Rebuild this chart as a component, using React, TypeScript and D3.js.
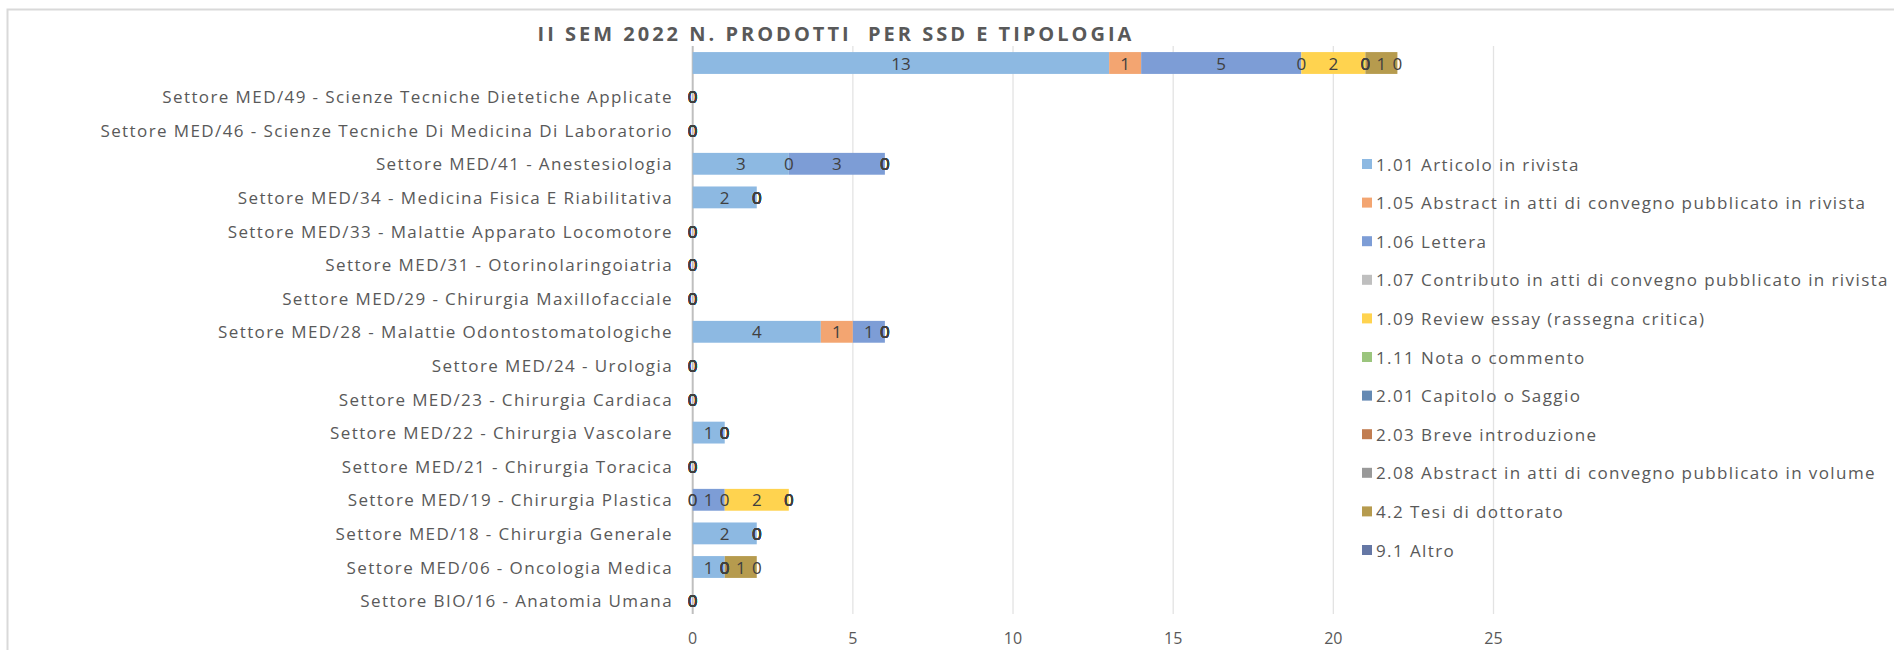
import * as d3 from 'd3';
import React from 'react';

const categories = [
  '',
  'Settore MED/49 - Scienze Tecniche Dietetiche Applicate',
  'Settore MED/46 - Scienze Tecniche Di Medicina Di Laboratorio',
  'Settore MED/41 - Anestesiologia',
  'Settore MED/34 - Medicina Fisica E Riabilitativa',
  'Settore MED/33 - Malattie Apparato Locomotore',
  'Settore MED/31 - Otorinolaringoiatria',
  'Settore MED/29 - Chirurgia Maxillofacciale',
  'Settore MED/28 - Malattie Odontostomatologiche',
  'Settore MED/24 - Urologia',
  'Settore MED/23 - Chirurgia Cardiaca',
  'Settore MED/22 - Chirurgia Vascolare',
  'Settore MED/21 - Chirurgia Toracica',
  'Settore MED/19 - Chirurgia Plastica',
  'Settore MED/18 - Chirurgia Generale',
  'Settore MED/06 - Oncologia Medica',
  'Settore BIO/16 - Anatomia Umana',
];

const seriesNames = [
  '1.01 Articolo in rivista',
  '1.05 Abstract in atti di convegno pubblicato in rivista',
  '1.06 Lettera',
  '1.07 Contributo in atti di convegno pubblicato in rivista',
  '1.09 Review essay (rassegna critica)',
  '1.11 Nota o commento',
  '2.01 Capitolo o Saggio',
  '2.03 Breve introduzione',
  '2.08 Abstract in atti di convegno pubblicato in volume',
  '4.2 Tesi di dottorato',
  '9.1 Altro',
];

const colors = [
  '#8db9e2', '#f3a571', '#7d9dd6', '#bfbfbf', '#ffd34f', '#9bc57d',
  '#6489b3', '#c17d51', '#999999', '#b69b4e', '#6577a5',
];

// one array per series, same order as categories (top to bottom)
const art101 = [13, 0, 0, 3, 2, 0, 0, 0, 4, 0, 0, 1, 0, 0, 2, 1, 0];
const abs105 = [1, 0, 0, 0, 0, 0, 0, 0, 1, 0, 0, 0, 0, 0, 0, 0, 0];
const let106 = [5, 0, 0, 3, 0, 0, 0, 0, 1, 0, 0, 0, 0, 1, 0, 0, 0];
const con107 = [0, 0, 0, 0, 0, 0, 0, 0, 0, 0, 0, 0, 0, 0, 0, 0, 0];
const rev109 = [2, 0, 0, 0, 0, 0, 0, 0, 0, 0, 0, 0, 0, 2, 0, 0, 0];
const not111 = [0, 0, 0, 0, 0, 0, 0, 0, 0, 0, 0, 0, 0, 0, 0, 0, 0];
const cap201 = [0, 0, 0, 0, 0, 0, 0, 0, 0, 0, 0, 0, 0, 0, 0, 0, 0];
const bre203 = [0, 0, 0, 0, 0, 0, 0, 0, 0, 0, 0, 0, 0, 0, 0, 0, 0];
const abs208 = [0, 0, 0, 0, 0, 0, 0, 0, 0, 0, 0, 0, 0, 0, 0, 0, 0];
const tes42 = [1, 0, 0, 0, 0, 0, 0, 0, 0, 0, 0, 0, 0, 0, 0, 1, 0];
const alt91 = [0, 0, 0, 0, 0, 0, 0, 0, 0, 0, 0, 0, 0, 0, 0, 0, 0];

const seriesValues = [
  art101, abs105, let106, con107, rev109, not111,
  cap201, bre203, abs208, tes42, alt91,
];

const xTicks = [0, 5, 10, 15, 20, 25];

const FONT = "'Open Sans', sans-serif";
const width = 1894;
const height = 650;

const App: React.FC = () => {
  const table = categories.map((c, i) => {
    const row: { [k: string]: any } = { cat: c };
    seriesNames.forEach((s, j) => {
      row[s] = seriesValues[j][i];
    });
    return row;
  });
  const stacked = d3.stack<any>().keys(seriesNames)(table);

  const x = d3.scaleLinear().domain([0, 25]).range([692.7, 1493.5]);
  const y = d3
    .scaleBand<number>()
    .domain(d3.range(categories.length))
    .range([46.2, 617.4])
    .paddingInner(0.35)
    .paddingOuter(0.175);
  const bw = y.bandwidth();

  return (
    <div style={{ position: 'absolute', left: 0, top: 0, background: 'white' }}>
      <svg width={width} height={height} style={{ display: 'block' }}>
        <rect x={0} y={0} width={width} height={height} fill='white' />
        <rect
          x={7.5}
          y={9.5}
          width={width + 20}
          height={height + 20}
          fill='none'
          stroke='#d9d9d9'
          strokeWidth={2}
        />
        <text
          x={836}
          y={33}
          textAnchor='middle'
          dominantBaseline='central'
          fontFamily={FONT}
          fontWeight={700}
          fontSize={20}
          letterSpacing={3}
          fill='#595959'
          style={{ whiteSpace: 'pre' }}
        >
          II SEM 2022 N. PRODOTTI  PER SSD E TIPOLOGIA
        </text>

        {/* gridlines */}
        {xTicks.map((t) => (
          <line
            key={t}
            x1={x(t)}
            x2={x(t)}
            y1={46}
            y2={614}
            stroke={t === 0 ? '#bfbfbf' : '#e3e3e3'}
            strokeWidth={t === 0 ? 2 : 1.3}
          />
        ))}
        {xTicks.map((t) => (
          <text
            key={'t' + t}
            x={x(t)}
            y={638}
            textAnchor='middle'
            dominantBaseline='central'
            fontFamily={FONT}
            fontSize={16}
            fill='#595959'
          >
            {t}
          </text>
        ))}

        {/* category labels */}
        {categories.map((c, i) => (
          <text
            key={'c' + i}
            x={673}
            y={(y(i) as number) + bw / 2}
            textAnchor='end'
            dominantBaseline='central'
            fontFamily={FONT}
            fontSize={17}
            letterSpacing={1.4}
            fill='#595959'
          >
            {c}
          </text>
        ))}

        {/* bars */}
        {stacked.map((s, j) => (
          <g key={s.key} fill={colors[j]}>
            {s.map((d, i) => (
              <rect
                key={i}
                x={x(d[0])}
                y={y(i)}
                width={x(d[1]) - x(d[0])}
                height={bw}
              />
            ))}
          </g>
        ))}

        {/* data labels, zeros included like the original */}
        {stacked.map((s, j) => (
          <g key={'l' + s.key}>
            {s.map((d, i) => (
              <text
                key={i}
                x={x((d[0] + d[1]) / 2)}
                y={(y(i) as number) + bw / 2}
                textAnchor='middle'
                dominantBaseline='central'
                fontFamily={FONT}
                fontSize={17}
                fill='#404040'
              >
                {seriesValues[j][i]}
              </text>
            ))}
          </g>
        ))}

        {/* legend */}
        {seriesNames.map((s, j) => (
          <g key={'lg' + j} transform={`translate(1362,${164 + 38.6 * j})`}>
            <rect x={0} y={-5} width={10} height={10} fill={colors[j]} />
            <text
              x={14}
              y={0}
              dominantBaseline='central'
              fontFamily={FONT}
              fontSize={17}
              letterSpacing={1.4}
              fill='#595959'
            >
              {s}
            </text>
          </g>
        ))}
      </svg>
    </div>
  );
};

export default App;
